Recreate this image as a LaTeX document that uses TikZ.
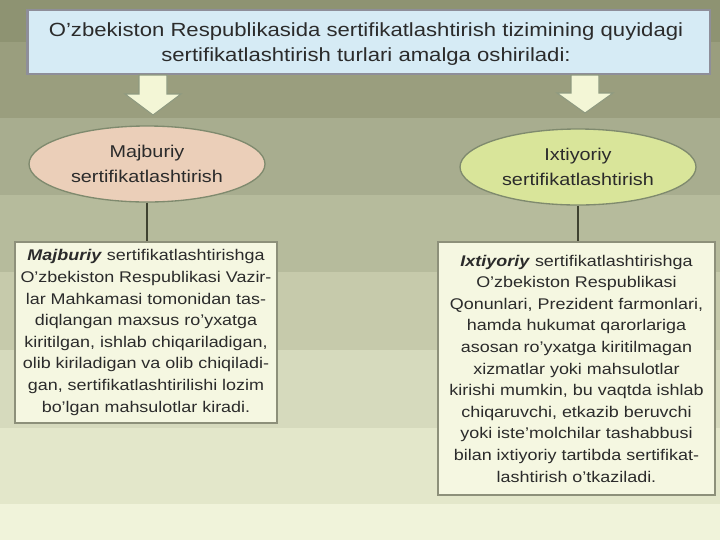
\documentclass[tikz,border=0pt]{standalone}
\usepackage{fontspec}
\setmainfont{Liberation Sans}[FakeStretch=1.16]
\usetikzlibrary{shapes.geometric}
\definecolor{bgA}{HTML}{8E9372}
\definecolor{bgB}{HTML}{9A9E7E}
\definecolor{bgC}{HTML}{A8AD8F}
\definecolor{bgD}{HTML}{B6BB9C}
\definecolor{bgE}{HTML}{C6CAAB}
\definecolor{bgF}{HTML}{D6DABD}
\definecolor{bgG}{HTML}{E3E7CA}
\definecolor{bgH}{HTML}{F0F3DA}
\definecolor{topfill}{HTML}{D6EBF5}
\definecolor{topline}{HTML}{8E8E99}
\definecolor{arrfill}{HTML}{F3F6D6}
\definecolor{arrline}{HTML}{8F9A80}
\definecolor{ellA}{HTML}{EBCFB9}
\definecolor{ellB}{HTML}{D9E59A}
\definecolor{ellline}{HTML}{7F8A6E}
\definecolor{boxfill}{HTML}{F5F7E1}
\definecolor{boxline}{HTML}{8D907A}
\definecolor{txt}{HTML}{2B2B2B}
\definecolor{conn}{HTML}{3F4230}
\tikzset{
  x=0.75pt, y=-0.75pt,
  topbox/.style={draw=topline, line width=2pt, fill=topfill, minimum width=512pt, minimum height=48pt, inner sep=0pt, align=center, text=txt, font=\fontsize{14.3}{19}\selectfont},
  blockarrow/.style={draw=arrline, line width=0.8pt, fill=arrfill},
  kind/.style={ellipse, draw=ellline, line width=1pt, minimum width=177pt, minimum height=57pt, inner sep=0pt, align=center, text=txt, font=\fontsize{12.8}{18.5}\selectfont},
  infobox/.style={draw=boxline, line width=1.4pt, fill=boxfill, inner sep=0pt, align=center, text=txt, font=\fontsize{11.6}{16.2}\selectfont},
  link/.style={draw=conn, line width=1.1pt}
}
\begin{document}
\begin{tikzpicture}
\useasboundingbox (0,0) rectangle (720,540);
% background bands
\fill[bgA] (0,0) rectangle (720,42);
\fill[bgB] (0,42) rectangle (720,118);
\fill[bgC] (0,118) rectangle (720,195);
\fill[bgD] (0,195) rectangle (720,272);
\fill[bgE] (0,272) rectangle (720,350);
\fill[bgF] (0,350) rectangle (720,428);
\fill[bgG] (0,428) rectangle (720,504);
\fill[bgH] (0,504) rectangle (720,540);
% top box
\node[topbox] (top) at (368.5,42) {};
\node[align=center, text=txt, font=\fontsize{14.3}{19}\selectfont, inner sep=0pt] (toptext) at (366,44) {O’zbekiston Respublikasida sertifikatlashtirish tizimining quyidagi\\sertifikatlashtirish turlari amalga oshiriladi:};
% block arrows
\draw[blockarrow] (139,75) -- (167,75) -- (167,94) -- (181,94) -- (153,115) -- (125,94) -- (139,94) -- cycle;
\draw[blockarrow] (571,75) -- (599,75) -- (599,93) -- (613,93) -- (585,113) -- (557,93) -- (571,93) -- cycle;
% ellipses
\node[kind, fill=ellA] (maj) at (147,164) {Majburiy\\sertifikatlashtirish};
\node[kind, fill=ellB] (ixt) at (578,167) {Ixtiyoriy\\sertifikatlashtirish};
% boxes
\node[infobox, minimum width=196.5pt, minimum height=135.75pt] (majbox) at (146,332.5) {\textbf{\textit{Majburiy}} sertifikatlashtirishga\\O’zbekiston Respublikasi Vazir-\\lar Mahkamasi tomonidan tas-\\diqlangan maxsus ro’yxatga\\kiritilgan, ishlab chiqariladigan,\\olib kiriladigan va olib chiqiladi-\\gan, sertifikatlashtirilishi lozim\\bo’lgan mahsulotlar kiradi.};
\node[infobox, minimum width=207.75pt, minimum height=189.75pt] (ixtbox) at (576.5,368.5) {\textbf{\textit{Ixtiyoriy}} sertifikatlashtirishga\\O’zbekiston Respublikasi\\Qonunlari, Prezident farmonlari,\\hamda hukumat qarorlariga\\asosan ro’yxatga kiritilmagan\\xizmatlar yoki mahsulotlar\\kirishi mumkin, bu vaqtda ishlab\\chiqaruvchi, etkazib beruvchi\\yoki iste’molchilar tashabbusi\\bilan ixtiyoriy tartibda sertifikat-\\lashtirish o’tkaziladi.};
% connectors
\draw[link] (maj.south) -- (maj.south |- majbox.north);
\draw[link] (ixt.south) -- (ixt.south |- ixtbox.north);
\end{tikzpicture}
\end{document}
